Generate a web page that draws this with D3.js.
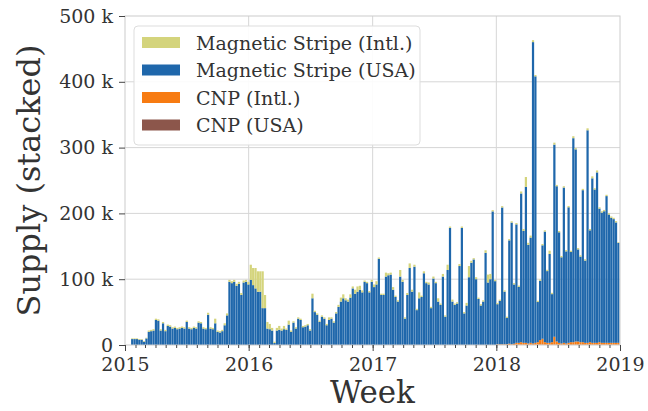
<!DOCTYPE html>
<html>
<head>
<meta charset="utf-8">
<script src="https://cdnjs.cloudflare.com/ajax/libs/d3/7.8.5/d3.min.js"></script>
<style>
body { margin: 0; background: #fff; }
svg { display: block; font-family: "DejaVu Serif", serif; }
</style>
</head>
<body>
<div id="chart"></div>
<script>
// stack order, bottom to top
var seriesKeys = ["cnpUSA", "cnpIntl", "magUSA", "magIntl"];
var seriesNames = ["CNP (USA)", "CNP (Intl.)", "Magnetic Stripe (USA)", "Magnetic Stripe (Intl.)"];
var seriesColors = ["#8c564b", "#f77b12", "#1f67ab", "#d4d47c"];
var firstWeek = new Date(2015, 0, 5);
var yTicks = [0, 100, 200, 300, 400, 500];

// weekly supply, thousands of cards
var magUSA2015 = [0,0,9,9,9,8,8,5,10,20, 21,22,38,37,22,33,21,29,28,25, 26,24,25,26,25,35,25,24,26,25,
  34,33,25,24,46,25,24,33,20,19, 21,30,45,96,94,96,90,93,76,95, 96,92];
var magUSA2016 = [99,91,86,81,81,56,56,25,24,22, 3,22,23,22,24,23,31,20,34,25, 40,38,27,28,30,22,71,50,46,35,
  43,40,30,38,40,34,48,58,66,71, 68,66,72,86,78,81,84,80,96,94, 80,96];
var magUSA2017 = [88,92,131,76,76,104,106,107,84,73, 66,104,96,40,76,117,81,119,53,71, 73,109,94,92,56,101,94,66,61,104,
  43,114,178,66,61,63,120,178,48,60, 103,125,130,100,70,60,66,140,95,100, 203,97];
var magUSA2018 = [61,66,208,80,40,157,185,90,180,85, 226,170,237,150,160,458,405,61,90,142, 168,109,135,73,292,236,168,131,236,140,
  206,137,310,292,140,130,231,125,323,170, 250,233,259,203,198,200,223,195,190,188, 183,152];

var magIntl2015 = [0,0,1,1,1,1,1,1,1,2, 2,2,2,2,2,2,2,2,2,2, 2,2,2,2,2,2,2,2,2,2,
  2,2,2,2,3,2,2,7,2,2, 2,3,3,3,3,3,3,3,3,3, 3,4];
var magIntl2016 = [23,26,31,31,31,56,20,10,8,4, 2,4,6,3,5,2,6,2,2,2, 2,2,2,2,2,2,7,2,2,2,
  2,2,2,4,2,2,2,3,6,6, 3,3,5,3,6,8,6,3,2,2, 2,3];
var magIntl2017 = [4,5,2,2,2,6,3,3,4,2, 2,10,3,2,3,7,3,3,2,9, 2,3,2,3,2,3,2,5,2,4,
  2,8,2,3,2,2,3,2,2,4, 17,3,2,3,2,2,2,4,12,8, 2,2];
var magIntl2018 = [2,2,2,2,2,2,2,2,2,2, 3,3,15,3,3,3,2,2,2,2, 2,2,5,2,3,2,2,2,2,2,
  2,2,3,2,2,2,2,2,3,2, 3,2,3,2,2,2,2,2,2,2, 2,1];

// card-not-present only shows up in 2018
var cnpIntl2018 = [1,1,1,1,1,2,1,2,3,3, 4,3,3,2,3,2,3,4,7,9, 4,3,3,4,12,5,3,2,3,2,
  3,4,4,5,5,4,4,3,3,4, 3,3,3,4,3,3,3,3,3,3, 3,3];
var cnpUSA2018 = [0,0,0,0,0,0,0,0,0.3,0.3, 0.3,0.3,0.3,0.3,0.3,0.3,0.3,0.3,0.5,0.5, 0.3,0.3,0.3,0.3,0.5,0.3,0.3,0.3,0.3,0.3,
  0.3,0.3,0.3,0.3,0.3,0.3,0.3,0.3,0.3,0.3, 0.3,0.3,0.3,0.3,0.3,0.3,0.3,0.3,0.3,0.3, 0.3,0.3];

var magUSA = magUSA2015.concat(magUSA2016, magUSA2017, magUSA2018);
var magIntl = magIntl2015.concat(magIntl2016, magIntl2017, magIntl2018);
var cnpStart = magUSA2015.length + magUSA2016.length + magUSA2017.length;

var rows = magUSA.map(function(v, i){
  var j = i - cnpStart;
  return {
    week: d3.timeWeek.offset(firstWeek, i),
    magUSA: v,
    magIntl: magIntl[i],
    cnpIntl: j >= 0 ? cnpIntl2018[j] : 0,
    cnpUSA: j >= 0 ? cnpUSA2018[j] : 0
  };
});

var width = 648, height = 411;
var margin = {left: 125, right: 28, top: 16, bottom: 66};
var plotW = width - margin.left - margin.right;
var plotH = height - margin.top - margin.bottom;

var svg = d3.select('#chart')
  .append('svg')
  .attr('width', width)
  .attr('height', height);

var x = d3.scaleTime()
  .domain([new Date(2015, 0, 1), new Date(2019, 0, 1)])
  .range([0, plotW]);
var y = d3.scaleLinear()
  .domain([0, 500])
  .range([plotH, 0]);

var g = svg.append('g')
  .attr('transform', 'translate(' + margin.left + ',' + margin.top + ')');

// grid
g.append('g').selectAll('line')
  .data(yTicks.slice(1, -1))
  .enter().append('line')
  .attr('x1', 0).attr('x2', plotW)
  .attr('y1', function(d){ return y(d); })
  .attr('y2', function(d){ return y(d); })
  .attr('stroke', '#d6d6d6');
g.append('g').selectAll('line')
  .data(x.ticks(d3.timeYear).slice(1, -1))
  .enter().append('line')
  .attr('y1', 0).attr('y2', plotH)
  .attr('x1', function(d){ return x(d); })
  .attr('x2', function(d){ return x(d); })
  .attr('stroke', '#d6d6d6');

var stacked = d3.stack().keys(seriesKeys)(rows);

svg.append('clipPath').attr('id', 'clip')
  .append('rect').attr('width', plotW).attr('height', plotH);

var layer = g.append('g').attr('clip-path', 'url(#clip)').selectAll('g')
  .data(stacked)
  .enter().append('g')
  .attr('fill', function(d, i){ return seriesColors[i]; });

layer.selectAll('rect')
  .data(function(d){ return d.filter(function(p){ return p[1] > p[0]; }); })
  .enter().append('rect')
  .attr('x', function(p){ return x(p.data.week); })
  .attr('width', function(p){ return x(d3.timeDay.offset(p.data.week, 7)) - x(p.data.week) - 0.15; })
  .attr('y', function(p){ return y(p[1]); })
  .attr('height', function(p){ return y(p[0]) - y(p[1]); });

// frame
g.append('rect')
  .attr('width', plotW).attr('height', plotH)
  .attr('fill', 'none').attr('stroke', '#cccccc');

// axes
var yAxis = g.append('g')
  .call(d3.axisLeft(y).tickValues(yTicks).tickSize(6).tickPadding(6)
    .tickFormat(function(d){ return d === 0 ? '0' : d + ' k'; }));
var xAxis = g.append('g')
  .attr('transform', 'translate(0,' + plotH + ')')
  .call(d3.axisBottom(x).ticks(d3.timeYear).tickSize(6).tickPadding(7)
    .tickFormat(d3.timeFormat('%Y')));
var xMinor = g.append('g')
  .attr('transform', 'translate(0,' + plotH + ')')
  .call(d3.axisBottom(x).ticks(d3.timeMonth).tickSize(3).tickFormat(''));

[yAxis, xAxis, xMinor].forEach(function(a){
  a.select('.domain').remove();
  a.selectAll('line').attr('stroke', '#444');
  a.selectAll('text').attr('fill', '#333').style('font-size', '19px').style('font-family', '"DejaVu Serif", serif');
});

// axis titles
svg.append('text')
  .attr('transform', 'translate(40,' + (margin.top + plotH / 2) + ') rotate(-90)')
  .attr('text-anchor', 'middle')
  .attr('fill', '#333')
  .style('font-size', '32px')
  .text('Supply (stacked)');
svg.append('text')
  .attr('x', margin.left + plotW / 2)
  .attr('y', 403)
  .attr('text-anchor', 'middle')
  .attr('fill', '#333')
  .style('font-size', '31px')
  .text('Week');

// legend, top row = top of stack
var legend = g.append('g').attr('transform', 'translate(9,10)');
legend.append('rect')
  .attr('width', 286).attr('height', 119)
  .attr('rx', 4)
  .attr('fill', '#fff').attr('fill-opacity', 0.9)
  .attr('stroke', '#dddddd');
var item = legend.selectAll('g.item')
  .data(d3.range(seriesKeys.length).reverse())
  .enter().append('g')
  .attr('class', 'item')
  .attr('transform', function(d, i){ return 'translate(8,' + (17 + i * 27.5) + ')'; });
item.append('rect')
  .attr('y', -6).attr('width', 38).attr('height', 11)
  .attr('fill', function(d){ return seriesColors[d]; });
item.append('text')
  .attr('x', 54).attr('y', 6.5)
  .attr('fill', '#333')
  .style('font-size', '19px')
  .text(function(d){ return seriesNames[d]; });
</script>
</body>
</html>
